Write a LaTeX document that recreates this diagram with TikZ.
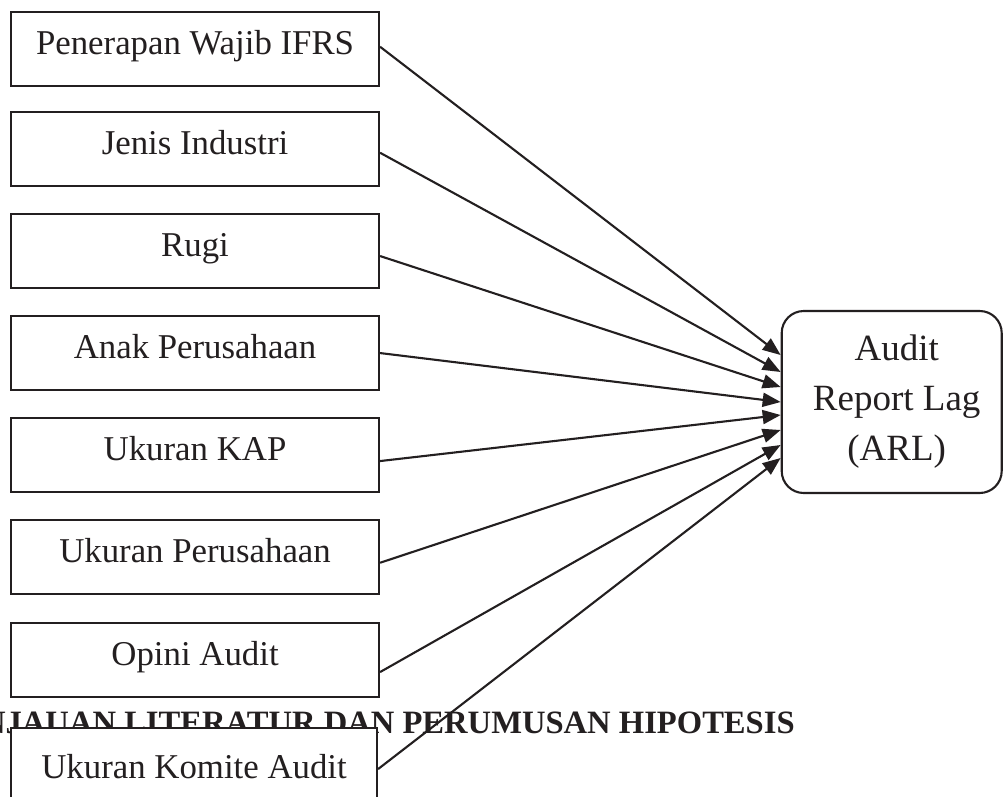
\documentclass[tikz,border=0pt]{standalone}
\usepackage{fontspec}
\setmainfont{Liberation Serif}
\usetikzlibrary{arrows.meta,calc}
\definecolor{ink}{HTML}{231F20}
\tikzset{
  varbox/.style={draw=ink, text=ink, line width=2.1pt, fill=white, rectangle,
    minimum width=368pt, minimum height=74pt, anchor=north west,
    font=\fontsize{34.8}{40}\selectfont, text height=24pt, text depth=14pt, inner sep=0pt},
  arlbox/.style={draw=ink, text=ink, line width=2.1pt, fill=white, rectangle, rounded corners=22pt,
    minimum width=220pt, minimum height=182pt, align=center,
    font=\fontsize{37}{50}\selectfont},
  conn/.style={line width=2.1pt, draw=ink, -{Triangle[length=18pt,width=14pt]}},
  heading/.style={font=\fontsize{32.6}{36}\selectfont\bfseries, text=ink, inner sep=0pt, anchor=base east}
}
\begin{document}
\begin{tikzpicture}[x=1pt,y=-1pt]
\useasboundingbox (0,0) rectangle (1004,796);
\fill[white] (0,0) rectangle (1004,796);
\node[heading] (head) at (795,733) {TINJAUAN LITERATUR DAN PERUMUSAN HIPOTESIS};
\node[varbox] (b1) at (10,11) {Penerapan Wajib IFRS};
\node[varbox] (b2) at (10,111) {Jenis Industri};
\node[varbox] (b3) at (10,213) {Rugi};
\node[varbox] (b4) at (10,315) {Anak Perusahaan};
\node[varbox] (b5) at (10,417) {Ukuran KAP};
\node[varbox] (b6) at (10,519) {Ukuran Perusahaan};
\node[varbox] (b7) at (10,622) {Opini Audit};
\node[varbox, minimum width=366pt, text height=30pt, text depth=4pt] (b8) at (10,727) {Ukuran Komite Audit};
\node[arlbox] (arl) at (891.7,402) {\hspace*{10pt}Audit\\\hspace*{10pt}Report Lag\\\hspace*{10pt}(ARL)};
\draw[conn] ($(b1.east)+(0,-2.3)$) -- ($(arl.west)+(0,-47)$);
\draw[conn] ($(b2.east)+(0,3.7)$) -- ($(arl.west)+(0,-30)$);
\draw[conn] ($(b3.east)+(0,5)$) -- ($(arl.west)+(0,-15)$);
\draw[conn] ($(b4.east)+(0,0)$) -- ($(arl.west)+(0,0)$);
\draw[conn] ($(b5.east)+(0,6)$) -- ($(arl.west)+(0,13)$);
\draw[conn] ($(b6.east)+(0,5.7)$) -- ($(arl.west)+(0,28)$);
\draw[conn] ($(b7.east)+(0,12)$) -- ($(arl.west)+(0,43)$);
\draw[conn] ($(b8.east)+(0,4)$) -- ($(arl.west)+(0,56)$);
\end{tikzpicture}
\end{document}
